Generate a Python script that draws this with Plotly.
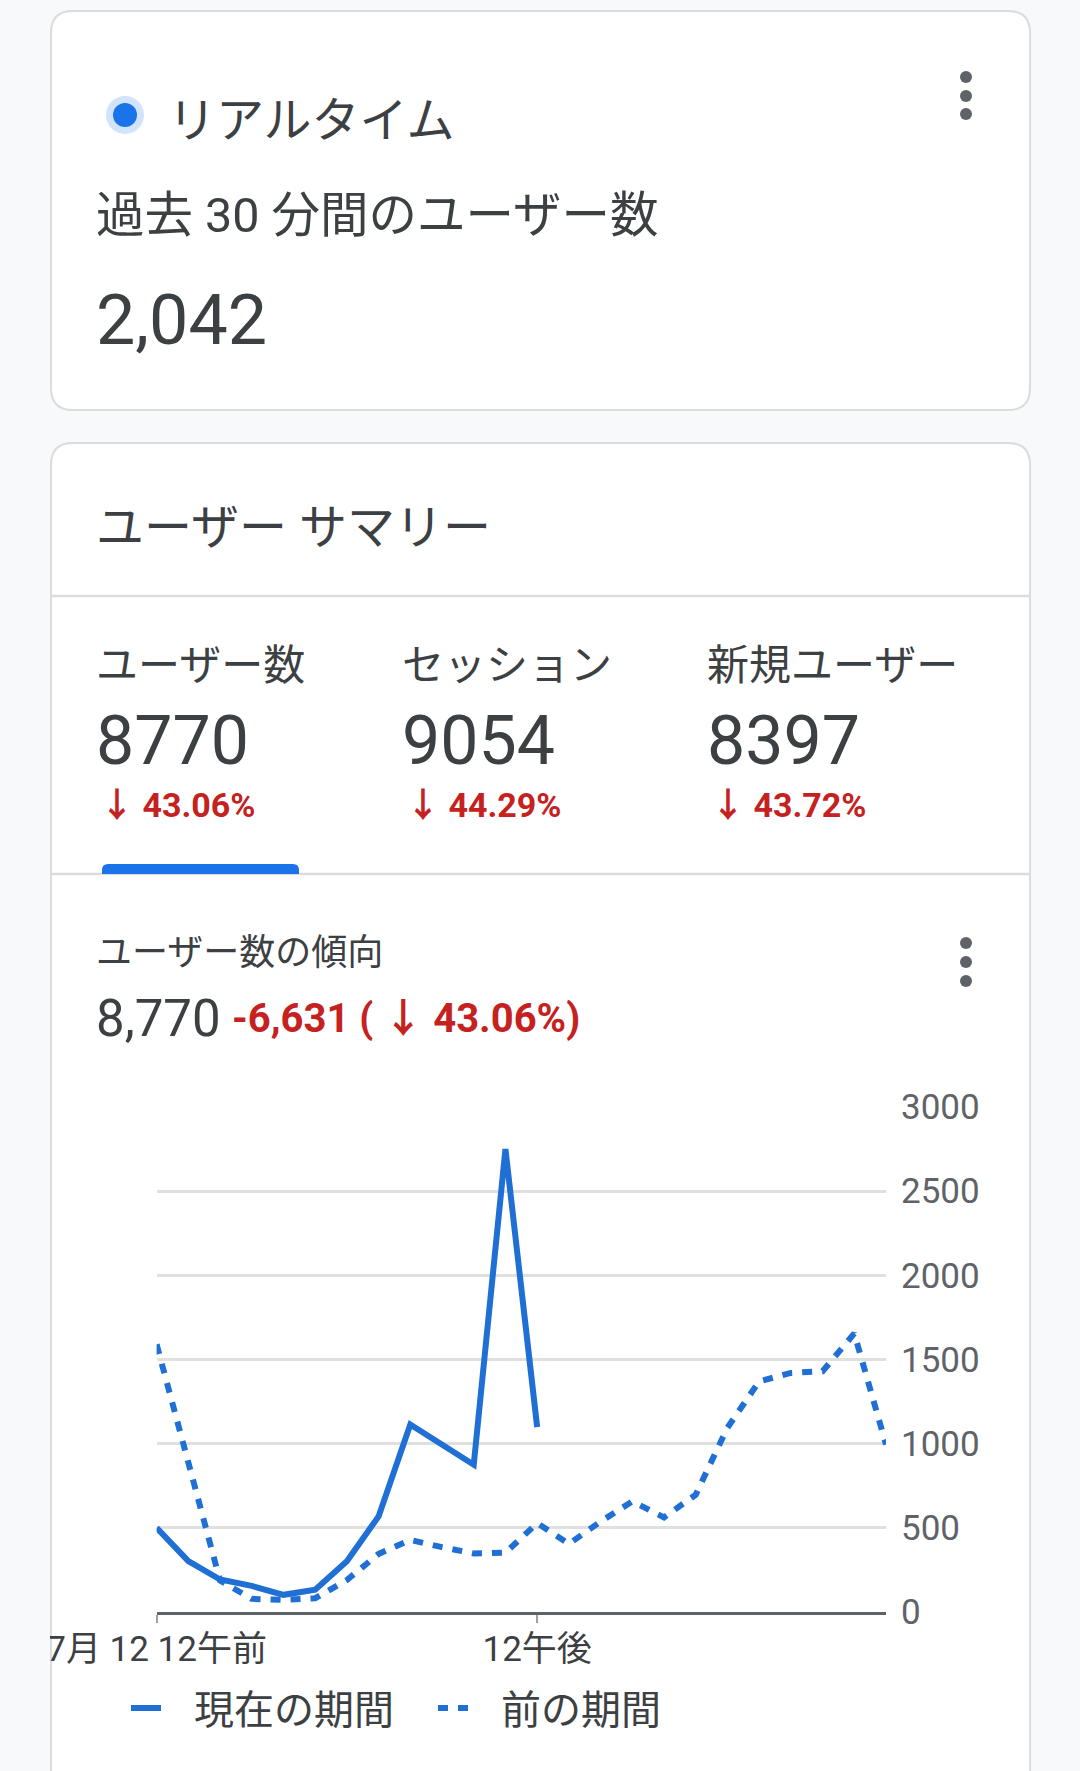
import plotly.graph_objects as go

W, H = 1080, 1771

# hourly users, current day vs previous period
hours_current = [0, 1, 2, 3, 4, 5, 6, 7, 8, 9, 10, 11, 12]
users_current = [500, 302, 193, 155, 102, 132, 302, 568, 1114, 995, 875, 2750, 1098]
hours_previous = [0, 1, 2, 3, 4, 5, 6, 7, 8, 9, 10, 11, 12, 13, 14, 15, 16, 17, 18, 19, 20, 21, 22, 23]
users_previous = [1590, 880, 187, 78, 72, 82, 190, 345, 428, 385, 348, 352, 528, 405,
                  537, 657, 562, 697, 1095, 1370, 1420, 1430, 1655, 995]

tick_hours = [0, 12]
tick_labels = ["7月 12 12午前", "12午後"]
y_ticks = [0, 500, 1000, 1500, 2000, 2500, 3000]

series_names = ["現在の期間", "前の期間"]

realtime_users = "2,042"
metric_names = ["ユーザー数", "セッション", "新規ユーザー"]
metric_values = [8770, 9054, 8397]
metric_changes = [43.06, 44.29, 43.72]
trend_total = "8,770"
trend_diff = "-6,631"
trend_pct = 43.06

BLUE = "#1f6fd4"
TEXT = "#3c4043"
GREY = "#5f6368"
RED = "#c5221f"
LINE = "#e0e0e0"
BG = "#f8f9fa"
FONT = "Roboto, Noto Sans CJK JP"
GAP = "\u00a0\u00a0\u2009"  # space between legend symbol and label


def fx(x):
    return x / W


def fy(y):
    return 1 - y / H


def rounded(x0, y0, x1, y1, r, top_only=False):
    rb = 0 if top_only else r
    pts = [("M", [(x0 + r, y0)]), ("L", [(x1 - r, y0)]), ("Q", [(x1, y0), (x1, y0 + r)]),
           ("L", [(x1, y1 - rb)]), ("Q", [(x1, y1), (x1 - rb, y1)]), ("L", [(x0 + rb, y1)]),
           ("Q", [(x0, y1), (x0, y1 - rb)]), ("L", [(x0, y0 + r)]), ("Q", [(x0, y0), (x0 + r, y0)])]
    s = ""
    for cmd, pp in pts:
        s += cmd + " " + " ".join(f"{fx(a):.5f},{fy(b):.5f}" for a, b in pp) + " "
    return s + "Z"


fig = go.Figure()

fig.add_trace(go.Scatter(
    x=hours_current, y=users_current, name=GAP + series_names[0], mode="lines",
    line=dict(color=BLUE, width=6), cliponaxis=False,
))
fig.add_trace(go.Scatter(
    x=hours_previous, y=users_previous, name=GAP + series_names[1], mode="lines",
    line=dict(color=BLUE, width=6, dash="10px,10px"), cliponaxis=False,
))

shapes = []
# cards
shapes.append(dict(type="path", path=rounded(51, 11, 1030, 410, 22), xref="paper", yref="paper",
                   fillcolor="white", line=dict(color="#dadce0", width=2), layer="below"))
shapes.append(dict(type="path", path=rounded(51, 443, 1030, 1800, 22), xref="paper", yref="paper",
                   fillcolor="white", line=dict(color="#dadce0", width=2), layer="below"))
# dividers
for yy in [596, 874]:
    shapes.append(dict(type="line", xref="paper", yref="paper", x0=fx(51), x1=fx(1030),
                       y0=fy(yy), y1=fy(yy), line=dict(color="#dadce0", width=2.5), layer="below"))
# selected tab indicator
shapes.append(dict(type="path", path=rounded(102, 864, 299, 874, 6, top_only=True),
                   xref="paper", yref="paper", fillcolor="#1a73e8", line=dict(width=0), layer="below"))
# realtime dot
for r, c in [(19, "#d2e3fc"), (12, "#1a73e8")]:
    shapes.append(dict(type="circle", xref="paper", yref="paper", x0=fx(125 - r), x1=fx(125 + r),
                       y0=fy(115 - r), y1=fy(115 + r), fillcolor=c, line=dict(width=0), layer="below"))
# menu dots
for cy in [77, 96, 114, 943, 962, 981]:
    shapes.append(dict(type="circle", xref="paper", yref="paper", x0=fx(960), x1=fx(972),
                       y0=fy(cy - 6), y1=fy(cy + 6), fillcolor=GREY, line=dict(width=0), layer="below"))

ann = []


def text(x, y, s, size, color=TEXT, weight=400):
    ann.append(dict(x=fx(x), y=fy(y), xref="paper", yref="paper", text=s, showarrow=False,
                    xanchor="left", yanchor="middle",
                    font=dict(family=FONT, size=size, color=color, weight=weight)))


text(166, 120, "リアルタイム", 48)
text(94, 215, "過去 30 分間のユーザー数", 48.5)
text(94, 320, realtime_users, 70)
text(94, 527, "ユーザー サマリー", 48)
for xx, n, v, c in zip([94, 400, 705], metric_names, metric_values, metric_changes):
    text(xx, 666, n, 42)
    text(xx, 741, str(v), 68)
    text(xx + 4, 805, f"↓ {c:.2f}%", 34, RED, 700)
text(94, 953, "ユーザー数の傾向", 36)
text(94, 1019, trend_total, 51)
text(230, 1019, f"{trend_diff} ( ↓ {trend_pct:.2f}%)", 40, RED, 700)

# hide the part of the first tick label that runs past the card edge
ann.append(dict(x=0, y=fy(1647), xref="paper", yref="paper", text=" ", showarrow=False,
                xanchor="left", yanchor="middle", width=50, height=70, bgcolor=BG,
                borderwidth=0, borderpad=0))

fig.update_layout(
    width=W, height=H,
    margin=dict(l=0, r=0, t=0, b=0, autoexpand=False),
    paper_bgcolor=BG,
    plot_bgcolor="rgba(0,0,0,0)",
    shapes=shapes,
    annotations=ann,
    font=dict(family=FONT, color=GREY),
    showlegend=True,
    legend=dict(orientation="h", x=fx(126), y=fy(1708), xanchor="left", yanchor="middle",
                font=dict(size=40, color=TEXT, family=FONT), itemwidth=30,
                entrywidth=262, entrywidthmode="pixels",
                bgcolor="rgba(0,0,0,0)"),
    xaxis=dict(
        domain=[fx(156.6), fx(886)], range=[0, 23], automargin=False,
        tickvals=tick_hours, ticktext=tick_labels,
        showgrid=False, zeroline=False,
        showline=True, linecolor="#5f6368", linewidth=3,
        ticks="outside", ticklen=8, tickwidth=2, tickcolor="#9aa0a6",
        ticklabelstandoff=-4,
        tickfont=dict(size=35, color=TEXT),
    ),
    yaxis=dict(
        domain=[fy(1612), fy(1107)], range=[0, 3000], automargin=False,
        side="right", tickvals=y_ticks,
        showgrid=True, gridcolor=LINE, gridwidth=2.5, zeroline=False,
        ticks="", ticklabelstandoff=14,
        tickfont=dict(size=35, color=GREY),
    ),
)

fig.write_html("out.html", config={"displayModeBar": False},
               post_script="document.body.style.margin='0';")
